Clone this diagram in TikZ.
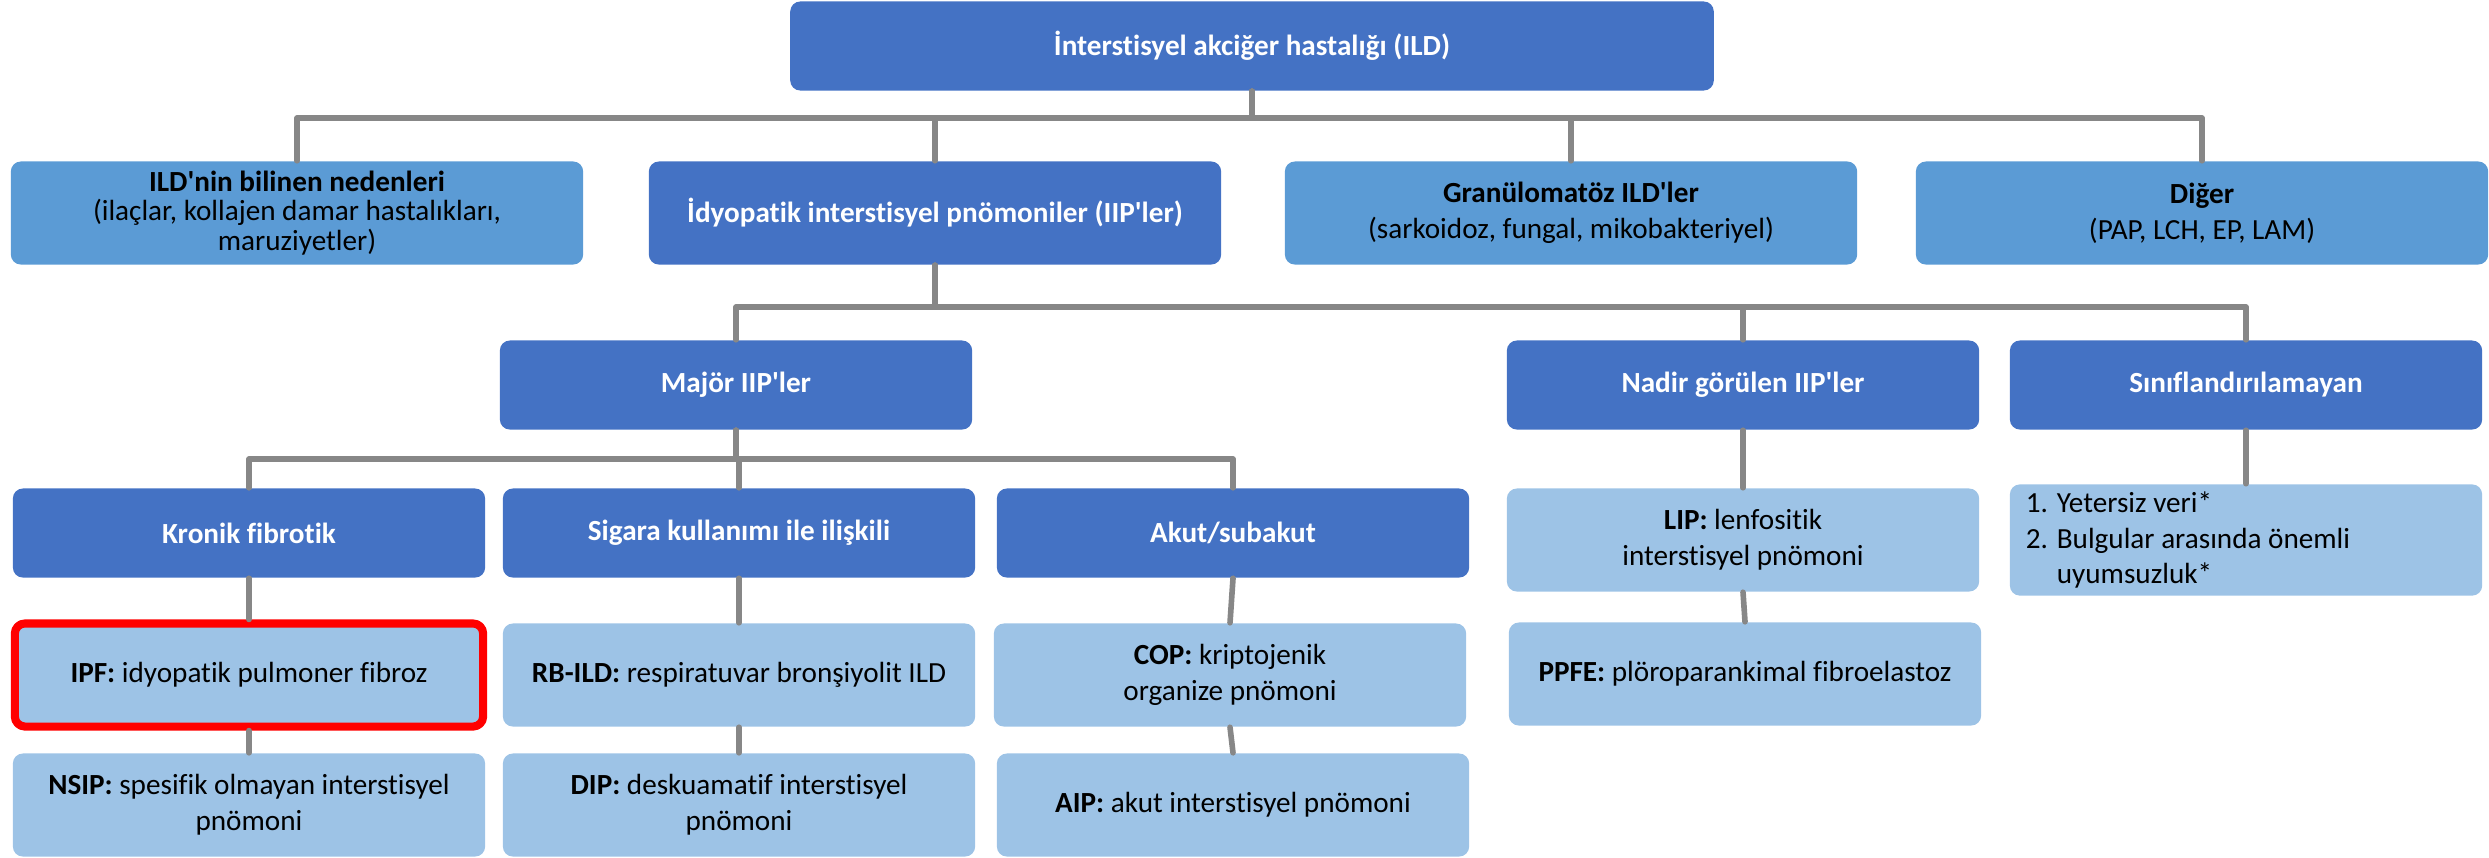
\documentclass[tikz,border=0pt]{standalone}
\usepackage{fontspec}
\setmainfont{Carlito}[Ligatures={TeXOff,CommonOff}]
\definecolor{dkblue}{HTML}{4472C4}
\definecolor{mdblue}{HTML}{5B9BD5}
\definecolor{ltblue}{HTML}{9DC3E6}
\definecolor{lngray}{HTML}{878787}
\newcommand\boxfont{\fontsize{8.3}{10.2}\selectfont}
\tikzset{
  box/.style={rectangle, rounded corners=0.1cm, minimum width=4.72cm, minimum height=0.89cm, inner sep=2pt, align=center, font=\boxfont},
  head/.style={box, fill=dkblue, text=white, font=\boxfont\bfseries},
  group/.style={box, fill=mdblue, text=black, minimum width=5.72cm, minimum height=1.03cm},
  leaf/.style={box, fill=ltblue, text=black, minimum height=1.03cm},
  conn/.style={draw=lngray, line width=1.6pt},
}
\begin{document}
\begin{tikzpicture}[x=0.01cm, y=-0.01cm, line join=round, line cap=round]
				\useasboundingbox (0,0) rectangle (2489,857);
				% top
				\node[head, minimum width=9.23cm] (ild) at (1252,46) {İnterstisyel akciğer hastalığı (ILD)};
				% first level
				\node[group, font=\fontsize{8.3}{8.3}\selectfont] (known) at (297,213) {\textbf{ILD'nin bilinen nedenleri}\\(ilaçlar, kollajen damar hastalıkları,\\maruziyetler)};
				\node[head, minimum width=5.72cm, minimum height=1.03cm] (iip) at (935,213) {İdyopatik interstisyel pnömoniler (IIP'ler)};
				\node[group] (gran) at (1571,213) {\textbf{Granülomatöz ILD'ler}\\(sarkoidoz, fungal, mikobakteriyel)};
				\node[group] (other) at (2202,213) {\textbf{Diğer}\\(PAP, LCH, EP, LAM)};
				% IIP groups
				\node[head] (major) at (736,385) {Majör IIP'ler};
				\node[head] (rare) at (1743,385) {Nadir görülen IIP'ler};
				\node[head] (unclass) at (2246,385) {Sınıflandırılamayan};
				% major IIPs
				\node[head] (kronik) at (249,533) {Kronik fibrotik};
				\node[head] (sigara) at (739,533) {Sigara kullanımı ile ilişkili};
				\node[head] (akut) at (1233,533) {Akut/subakut};
				\node[leaf] (lip) at (1743,540) {\textbf{LIP:} lenfositik\\interstisyel pnömoni};
				\node[leaf, align=flush left, text width=4.4cm, inner xsep=0.16cm] (unspec) at (2246,540) {1. Yetersiz veri*\\2. Bulgular arasında önemli\\\phantom{2. }uyumsuzluk*};
				% diseases
				\node[leaf, draw=red, line width=2.3pt, minimum width=4.68cm] (ipf) at (249,675) {\textbf{IPF:} idyopatik pulmoner fibroz};
				\node[leaf] (rbild) at (739,675) {\textbf{RB-ILD:} respiratuvar bronşiyolit ILD};
				\node[leaf] (cop) at (1230,675) {\textbf{COP:} kriptojenik\\organize pnömoni};
				\node[leaf] (ppfe) at (1745,674) {\textbf{PPFE:} plöroparankimal fibroelastoz};
				\node[leaf] (nsip) at (249,805) {\textbf{NSIP:} spesifik olmayan interstisyel\\pnömoni};
				\node[leaf] (dip) at (739,805) {\textbf{DIP:} deskuamatif interstisyel\\pnömoni};
				\node[leaf] (aip) at (1233,805) {\textbf{AIP:} akut interstisyel pnömoni};
				% connectors
				\coordinate (bus1) at (0,118);
				\coordinate (bus2) at (0,307);
				\coordinate (bus3) at (0,459);
				\foreach \c in {known,iip,gran,other}
					\draw[conn] (ild.south) -- (ild.south |- bus1) -| (\c.north);
				\foreach \c in {major,rare,unclass}
					\draw[conn] (iip.south) -- (iip.south |- bus2) -| (\c.north);
				\foreach \c in {kronik,sigara,akut}
					\draw[conn] (major.south) -- (major.south |- bus3) -| (\c.north);
				\draw[conn] (kronik.south) -- (ipf.north);
				\draw[conn] (ipf.south) -- (nsip.north);
				\draw[conn] (sigara.south) -- (rbild.north);
				\draw[conn] (rbild.south) -- (dip.north);
				\draw[conn] (akut.south) -- (cop.north);
				\draw[conn] (cop.south) -- (aip.north);
				\draw[conn] (rare.south) -- (lip.north);
				\draw[conn] (lip.south) -- (ppfe.north);
				\draw[conn] (unclass.south) -- (unspec.north);
			\end{tikzpicture}
\end{document}
